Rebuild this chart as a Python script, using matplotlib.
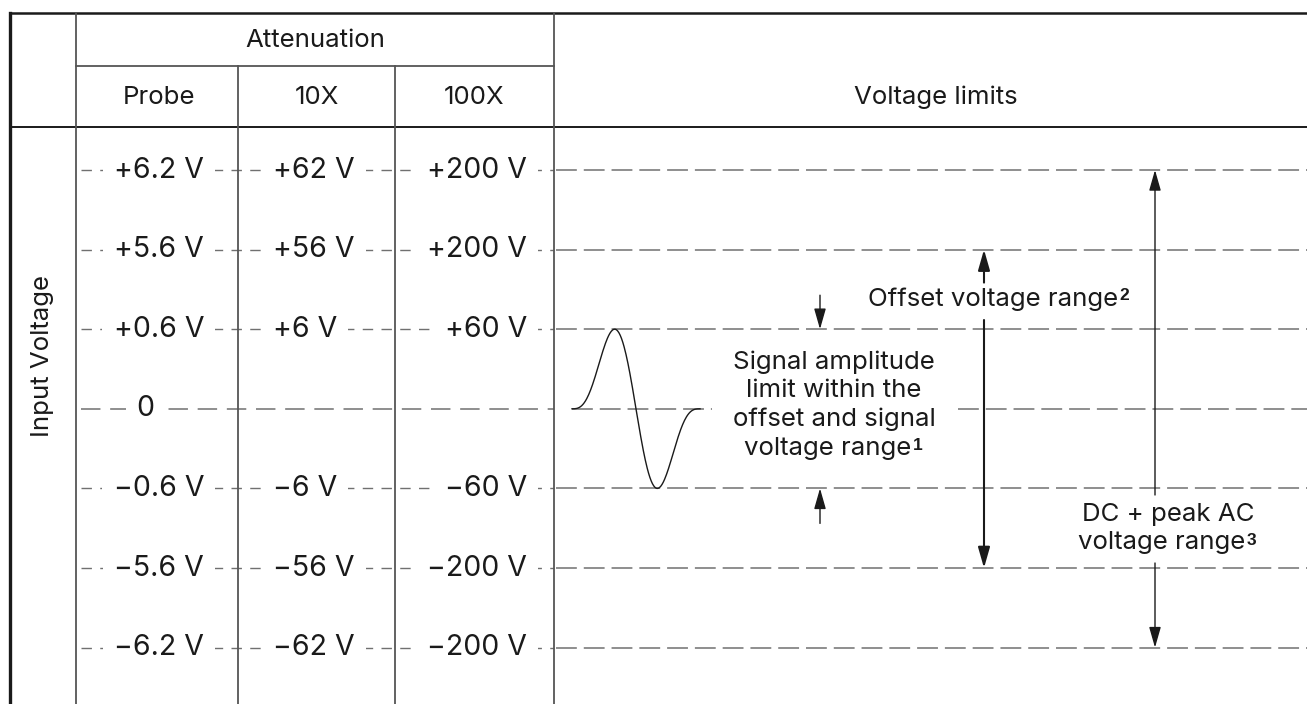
import numpy as np
import matplotlib.pyplot as plt

plt.rcParams['font.family'] = ['Inter', 'DejaVu Sans']
plt.rcParams['lines.scale_dashes'] = False

# table data
header_top = 'Attenuation'
columns = ['Probe', '10X', '100X']
right_title = 'Voltage limits'
side_label = 'Input Voltage'

probe_v = [6.2, 5.6, 0.6, 0.0, -0.6, -5.6, -6.2]
probe_lbl = ['+6.2 V', '+5.6 V', '+0.6 V', '0', '\u22120.6 V', '\u22125.6 V', '\u22126.2 V']
x10_lbl = ['+62 V', '+56 V', '+6 V', '', '\u22126 V', '\u221256 V', '\u221262 V']
x100_lbl = ['+200 V', '+200 V', '+60 V', '', '\u221260 V', '\u2212200 V', '\u2212200 V']

signal_limit = 0.6
offset_limit = 5.6
dcpeak_limit = 6.2

signal_txt = ['Signal amplitude', 'limit within the', 'offset and signal', 'voltage range']
offset_txt = 'Offset voltage range'
dcpeak_txt = ['DC + peak AC', 'voltage range']

# layout in pixels
W, H = 1307, 704
X_L, X_C1, X_C2, X_C3, X_C4 = 10, 76, 238, 395, 554
Y_TOP, Y_MID, Y_HEAD = 13, 66, 127
ROW_Y0, ROW_DY = 170, 79.6

INK = '#1a1a1a'
DASH = '#707070'
FS_LBL = 20.5
FS_TXT = 18.6


def row_y(v):
    return ROW_Y0 + probe_v.index(v) * ROW_DY


fig = plt.figure(figsize=(W / 100, H / 100), dpi=100)
ax = fig.add_axes([0, 0, 1, 1])
ax.set_xlim(0, W)
ax.set_ylim(H, 0)
ax.axis('off')

# table frame
ax.plot([X_L, W], [Y_TOP, Y_TOP], color=INK, lw=1.8, zorder=5)
ax.plot([X_L, W], [Y_HEAD, Y_HEAD], color=INK, lw=1.4, zorder=5)
ax.plot([X_C1, X_C4], [Y_MID, Y_MID], color='#555555', lw=1.3, zorder=5)
ax.plot([X_L, X_L], [Y_TOP, H], color=INK, lw=2.4, zorder=5)
ax.plot([X_C1, X_C1], [Y_TOP, H], color='#555555', lw=1.3, zorder=5)
ax.plot([X_C4, X_C4], [Y_TOP, H], color='#555555', lw=1.3, zorder=5)
for xc in [X_C2, X_C3]:
    ax.plot([xc, xc], [Y_MID, H], color='#555555', lw=1.3, zorder=5)

# header text
ax.text((X_C1 + X_C4) / 2, (Y_TOP + Y_MID) / 2 + 1, header_top, ha='center', va='center',
        fontsize=FS_TXT, color=INK)
col_x = [(X_C1 + X_C2) / 2 + 2, (X_C2 + X_C3) / 2, (X_C3 + X_C4) / 2]
for cx, name in zip(col_x, columns):
    ax.text(cx, (Y_MID + Y_HEAD) / 2 + 1, name, ha='center', va='center', fontsize=FS_TXT,
            color=INK)
ax.text((X_C4 + W) / 2 + 5, (Y_MID + Y_HEAD) / 2 + 1, right_title, ha='center', va='center',
        fontsize=FS_TXT, color=INK)
ax.text(43, 356, side_label, rotation=90, ha='center', va='center', fontsize=FS_TXT, color=INK)

# dashed level lines
box = dict(fc='white', ec='none', pad=8)
for i, v in enumerate(probe_v):
    y = row_y(v)
    if v == 0:
        ax.plot([X_C1 + 5, X_C4], [y, y], color=DASH, lw=1.1, ls=(0, (14, 7)), zorder=1)
        ax.plot([572, 712], [y, y], color=DASH, lw=1.1, ls=(0, (15, 5)), zorder=1)
        ax.plot([958, W], [y, y], color=DASH, lw=1.1, ls=(0, (15, 5)), zorder=1)
        ax.text(145, y, probe_lbl[i], ha='center', va='center', fontsize=FS_LBL, color=INK,
                bbox=dict(fc='white', ec='none', pad=7), zorder=3)
        continue
    ax.plot([X_C1 + 5, X_C4], [y, y], color=DASH, lw=1.0, ls=(0, (7.5, 6)), zorder=1)
    ax.plot([X_C4 + 2, W], [y, y], color=DASH, lw=1.1, ls=(0, (15, 5)), zorder=1)
    ax.text(204, y, probe_lbl[i], ha='right', va='center', fontsize=FS_LBL, color=INK,
            bbox=box, zorder=3)
    ax.text(273, y, x10_lbl[i], ha='left', va='center', fontsize=FS_LBL, color=INK,
            bbox=box, zorder=3)
    ax.text(527, y, x100_lbl[i], ha='right', va='center', fontsize=FS_LBL, color=INK,
            bbox=box, zorder=3)

# signal waveform (one period, amplitude = signal limit)
y0 = row_y(0.0)
amp = y0 - row_y(signal_limit)
t = np.linspace(0, 1, 200)
wave = np.sin(2 * np.pi * t) * np.sin(np.pi * t) ** 2
wave = wave / wave.max()
ax.plot(572 + 128 * t, y0 - amp * wave, color=INK, lw=1.0, zorder=4)


def arrow(x, y_from, y_to, lw=1.0):
    ax.annotate('', xy=(x, y_to), xytext=(x, y_from),
                arrowprops=dict(arrowstyle='-|>,head_length=0.7,head_width=0.2',
                                mutation_scale=18, lw=lw, color=INK,
                                shrinkA=0, shrinkB=0), zorder=6)


# signal amplitude arrows
arrow(820, row_y(signal_limit) - 34, row_y(signal_limit))
arrow(820, row_y(-signal_limit) + 35, row_y(-signal_limit))
# offset arrows
arrow(984, row_y(offset_limit) + 33, row_y(offset_limit), lw=1.5)
arrow(984, 320, row_y(-offset_limit), lw=1.5)
# dc + peak ac arrows
arrow(1155, 495, row_y(dcpeak_limit))
arrow(1155, 563, row_y(-dcpeak_limit))

# annotation texts
sup = dict(fontsize=12.5, fontweight='bold', color=INK, va='top', ha='left',
           family=['Liberation Sans', 'DejaVu Sans'])
for k, line in enumerate(signal_txt):
    tx = ax.text(834 if k < 3 else 828, 362 + k * 28.7, line, ha='center', va='center',
                 fontsize=FS_TXT, color=INK)
ax.annotate('1', xy=(1.0, 0.95), xycoords=tx, xytext=(1, 0),
            textcoords='offset points', **sup)

ot = ax.text(993, 299, offset_txt, ha='center', va='center', fontsize=FS_TXT, color=INK,
             bbox=dict(fc='white', ec='none', pad=1))
ax.annotate('2', xy=(1.0, 0.95), xycoords=ot, xytext=(1, 0), textcoords='offset points', **sup)

ax.text(1168, 515, dcpeak_txt[0], ha='center', va='center', fontsize=FS_TXT, color=INK)
dt = ax.text(1162, 543, dcpeak_txt[1], ha='center', va='center', fontsize=FS_TXT, color=INK)
ax.annotate('3', xy=(1.0, 0.95), xycoords=dt, xytext=(1, 0), textcoords='offset points', **sup)

fig.savefig('out.png', dpi=100, facecolor='white')
